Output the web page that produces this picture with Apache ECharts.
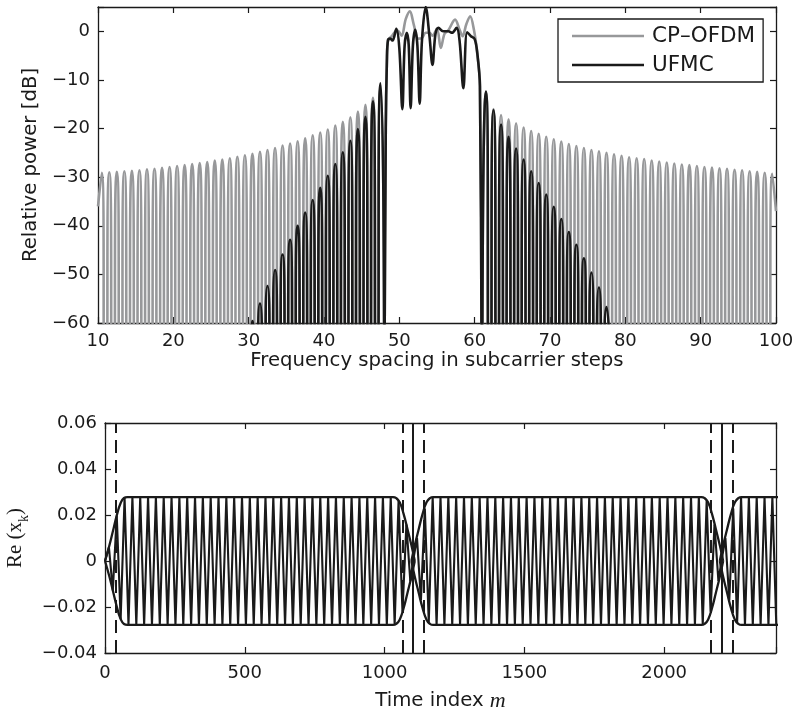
<!DOCTYPE html>
<html><head><meta charset="utf-8">
<script src="https://cdn.jsdelivr.net/npm/echarts@6/dist/echarts.min.js"></script>
<style>html,body{margin:0;padding:0;background:#fff}#c{width:792px;height:711px}</style>
</head><body><div id="c"></div>
<script>
// ---------- tick labels ----------
const topXTicks = [10,20,30,40,50,60,70,80,90,100];
const topYTicks = [-60,-50,-40,-30,-20,-10,0];
const botXTicks = [0,500,1000,1500,2000];
const botYTicks = [-0.04,-0.02,0,0.02,0.04,0.06];
const seriesNames = ['CP\u2013OFDM','UFMC'];

// ---------- top panel: spectra (dB) ----------
// side-lobe peak levels, one per subcarrier step (peaks at k+0.5)
const cpLeftPeakDb = [-29.1,-29.0,-28.9,-28.8,-28.7,-28.6,-28.4,-28.3,-28.1,-27.9,
  -27.7,-27.5,-27.3,-27.1,-26.9,-26.6,-26.4,-26.1,-25.8,-25.5,
  -25.2,-24.8,-24.4,-24.0,-23.5,-23.1,-22.6,-22.0,-21.4,-20.8,
  -20.2,-19.4,-18.6,-17.7,-16.5,-15.1,-13.7,-11.5];            // 10.5 .. 47.5
const cpRightPeakDb = [-12.5,-16.0,-17.2,-18.1,-18.9,-19.8,-20.5,-21.1,-21.7,-22.2,
  -22.7,-23.2,-23.6,-24.0,-24.4,-24.7,-25.0,-25.3,-25.6,-25.9,
  -26.1,-26.3,-26.6,-26.8,-27.0,-27.2,-27.4,-27.5,-27.7,-27.9,
  -28.0,-28.2,-28.3,-28.5,-28.6,-28.8,-28.9,-29.1,-29.3];     // 61.5 .. 99.5
const cpEdgeDb = [-36, -37];                                   // at f = 10 and f = 100
const cpInband = [[48.0,-80],[48.2,-20],[48.35,-6],[48.5,-1.8],[49.0,-1.0],[49.5,0],[49.8,0.1],
  [50.3,-0.9],[50.85,2.5],[51.4,4.1],[51.9,1.5],[52.5,-1.5],[53.0,-1.4],[53.5,-0.3],[54.0,-0.3],
  [54.4,-0.9],[55.0,0.5],[55.5,-3.4],[56.0,-0.5],[56.5,0.2],[57.4,2.4],[58.0,0.3],[58.4,-1.0],
  [58.9,1.5],[59.4,3.1],[59.9,0.3],[60.3,-4.0],[60.7,-11.0],[60.95,-80]];

const ufLeftPeakDb = [-59.6,-56.0,-52.4,-49.1,-45.9,-42.9,-40.0,-37.3,-34.7,-32.2,
  -29.7,-27.3,-24.9,-22.5,-20.1,-17.6,-14.4,-10.7];            // 30.5 .. 47.5
const ufRightPeakDb = [-12.4,-16.2,-19.2,-21.7,-24.1,-26.4,-28.8,-31.2,-33.6,-36.1,
  -38.6,-41.3,-43.9,-46.7,-49.6,-52.7,-56.7];                  // 61.5 .. 77.5
const ufInband = [[48.0,-80],[48.2,-20],[48.35,-6],[48.5,-1.8],[48.8,-1.5],[49.1,-1.9],[49.6,0.5],
  [50.0,-3.5],[50.4,-16.0],[50.7,-3.0],[51.0,-0.3],[51.25,-3.0],[51.5,-15.8],[51.8,-3.0],[52.1,0.3],
  [52.4,-3.0],[52.7,-14.9],[53.0,-2.0],[53.5,5.0],[54.0,-1.0],[54.4,-6.9],[54.8,-0.5],[55.2,0.7],
  [55.8,0.0],[56.5,0.0],[57.0,-0.3],[57.6,0.7],[58.0,-2.0],[58.5,-11.7],[59.0,-0.2],[59.5,-1.0],
  [60.0,-1.6],[60.35,-4.5],[60.7,-11.3],[60.95,-80]];
const nullFloorDb = -80;   // spectral nulls (below the visible range)

// ---------- bottom panel: time signal ----------
const solidLinesM = [1102, 2205];
const dashedLinesM = [39, 1064, 1141, 2167, 2244];
const waveM = [
  0,14,28,42,56,70,84,98,112,126,
  140,154,168,182,196,210,224,238,252,266,
  280,294,308,322,336,350,364,378,392,406,
  420,434,448,462,476,490,504,518,532,546,
  560,574,588,602,616,630,644,658,672,686,
  700,714,728,742,756,770,784,798,812,826,
  840,854,868,882,896,910,924,938,952,966,
  980,994,1008,1022,1036,1050,1064,1078,1092,
  1102,
  1116,1130,1144,1158,1172,1186,1200,1214,1228,
  1242,1256,1270,1284,1298,1312,1326,1340,1354,1368,
  1382,1396,1410,1424,1438,1452,1466,1480,1494,1508,
  1522,1536,1550,1564,1578,1592,1606,1620,1634,1648,
  1662,1676,1690,1704,1718,1732,1746,1760,1774,1788,
  1802,1816,1830,1844,1858,1872,1886,1900,1914,1928,
  1942,1956,1970,1984,1998,2012,2026,2040,2054,2068,
  2082,2096,2110,2124,2138,2152,2166,2180,2194,
  2205,
  2219,2233,2247,2261,2275,2289,2303,2317,2331,2345,2359,2373,2387,2401];
const waveV = [
  0,0.006,-0.0128,0.0198,-0.0252,0.0275,-0.0278,0.0278,-0.0278,0.0278,
  -0.0278,0.0278,-0.0278,0.0278,-0.0278,0.0278,-0.0278,0.0278,-0.0278,0.0278,
  -0.0278,0.0278,-0.0278,0.0278,-0.0278,0.0278,-0.0278,0.0278,-0.0278,0.0278,
  -0.0278,0.0278,-0.0278,0.0278,-0.0278,0.0278,-0.0278,0.0278,-0.0278,0.0278,
  -0.0278,0.0278,-0.0278,0.0278,-0.0278,0.0278,-0.0278,0.0278,-0.0278,0.0278,
  -0.0278,0.0278,-0.0278,0.0278,-0.0278,0.0278,-0.0278,0.0278,-0.0278,0.0278,
  -0.0278,0.0278,-0.0278,0.0278,-0.0278,0.0278,-0.0278,0.0278,-0.0278,0.0278,
  -0.0278,0.0278,-0.0278,0.0278,-0.0276,0.0262,-0.022,0.0158,-0.0087,
  0,
  0.010,-0.017,0.0228,-0.0266,0.0277,-0.0278,0.0278,-0.0278,0.0278,
  -0.0278,0.0278,-0.0278,0.0278,-0.0278,0.0278,-0.0278,0.0278,-0.0278,0.0278,
  -0.0278,0.0278,-0.0278,0.0278,-0.0278,0.0278,-0.0278,0.0278,-0.0278,0.0278,
  -0.0278,0.0278,-0.0278,0.0278,-0.0278,0.0278,-0.0278,0.0278,-0.0278,0.0278,
  -0.0278,0.0278,-0.0278,0.0278,-0.0278,0.0278,-0.0278,0.0278,-0.0278,0.0278,
  -0.0278,0.0278,-0.0278,0.0278,-0.0278,0.0278,-0.0278,0.0278,-0.0278,0.0278,
  -0.0278,0.0278,-0.0278,0.0278,-0.0278,0.0278,-0.0278,0.0278,-0.0278,0.0278,
  -0.0278,0.0278,-0.0278,0.0278,-0.0276,0.0262,-0.022,0.0158,-0.0087,
  0,
  0.010,-0.017,0.0228,-0.0266,0.0277,-0.0278,0.0278,-0.0278,0.0278,-0.0278,0.0278,-0.0278,0.0278,-0.0278];
// upper envelopes of the three blocks (lower = mirror)
const envBlock1 = [[0,0],[14,0.006],[28,0.0128],[42,0.0198],[56,0.0252],[68,0.0274],[80,0.0278],
  [1030,0.0278],[1042,0.0273],[1054,0.0255],[1068,0.0205],[1082,0.0138],[1096,0.0068],[1108,0]];
const envBlock2 = [[1096,0],[1108,0.0068],[1122,0.0138],[1136,0.0205],[1150,0.0255],[1162,0.0273],[1174,0.0278],
  [2133,0.0278],[2145,0.0273],[2157,0.0255],[2171,0.0205],[2185,0.0138],[2199,0.0068],[2211,0]];
const envBlock3 = [[2199,0],[2211,0.0068],[2225,0.0138],[2239,0.0205],[2253,0.0255],[2265,0.0273],[2277,0.0278],[2410,0.0278]];

// ---------- build ----------
function lobes(firstPeak, peaks){
  const out = [];
  peaks.forEach((db,i)=>{ const f = firstPeak + i; if(i>0) out.push([f-0.5, nullFloorDb]); out.push([f, db]); });
  return out;
}
const cpLeft  = [[topXTicks[0], cpEdgeDb[0]], ...lobes(10.5, cpLeftPeakDb), [48, nullFloorDb]];
const cpRight = [[61, nullFloorDb], ...lobes(61.5, cpRightPeakDb), [topXTicks[topXTicks.length-1], cpEdgeDb[1]]];
const ufLeft  = [[30, nullFloorDb], ...lobes(30.5, ufLeftPeakDb), [48, nullFloorDb]];
const ufRight = [[61, nullFloorDb], ...lobes(61.5, ufRightPeakDb), [78, nullFloorDb]];
const waveData = waveM.map((m,i)=>[m, waveV[i]]);

const SANS = 'DejaVu Sans', SERIF = 'Liberation Serif';
const INK = '#1a1a1a', GREY = '#97989a';
const minus = s => String(s).replace('-', '\u2212');
const near = (v, arr) => arr.some(t => Math.abs(t - v) < 1e-9);

const tick = {show:true, inside:true, length:6, lineStyle:{color:INK, width:1.2}};
const line = {show:true, onZero:false, lineStyle:{color:INK, width:1.3}};
const lbl = {color:INK, fontFamily:SANS, fontSize:18};

function spec(name, data, color, smooth, z){
  return {name, type:'line', xAxisIndex:0, yAxisIndex:0, symbol:'none', smooth,
    lineStyle:{color, width:2.6}, itemStyle:{color}, data, z};
}

const envSeries = [];
[envBlock1, envBlock2, envBlock3].forEach(env => {
  [1,-1].forEach(s => envSeries.push({
    type:'line', xAxisIndex:2, yAxisIndex:2, symbol:'none', smooth:0.5, silent:true,
    lineStyle:{color:INK, width:2.3}, data: env.map(p => [p[0], s*p[1]])
  }));
});

const chart = echarts.init(document.getElementById('c'), null, {renderer:'canvas'});
chart.setOption({
  animation:false,
  backgroundColor:'#fff',
  grid:[
    {left:98, top:7, width:678, height:316, containLabel:false, outerBoundsMode:'none'},
    {left:105, top:423, width:671, height:230, containLabel:false, outerBoundsMode:'none'}
  ],
  legend:{
    data: seriesNames, left:558, top:19, orient:'vertical', icon:'rect',
    backgroundColor:'#fff', borderColor:INK, borderWidth:1.3, borderRadius:0,
    padding:[6,8,6,14], itemWidth:72, itemHeight:2.6, itemGap:7,
    textStyle:{fontFamily:SANS, fontSize:21.5, color:INK, padding:[0,0,0,3], lineHeight:21}
  },
  xAxis:[
    {gridIndex:0, type:'value', min:10, max:100, interval:10, position:'bottom',
     axisLine:line, axisTick:tick, splitLine:{show:false},
     axisLabel:Object.assign({margin:9, formatter:v => near(v, topXTicks) ? String(v) : ''}, lbl),
     name:'Frequency spacing in subcarrier steps', nameLocation:'middle', nameGap:25,
     nameTextStyle:{fontFamily:SANS, fontSize:19.7, color:INK}},
    {gridIndex:0, type:'value', min:10, max:100, interval:10, position:'top',
     axisLine:line, axisTick:tick, splitLine:{show:false}, axisLabel:{show:false}},
    {gridIndex:1, type:'value', min:0, max:2400, interval:500, position:'bottom',
     axisLine:line, axisTick:tick, splitLine:{show:false},
     axisLabel:Object.assign({margin:11, formatter:v => near(v, botXTicks) ? String(v) : ''}, lbl),
     name:'{a|Time index }{b|m}', nameLocation:'middle', nameGap:37,
     nameTextStyle:{rich:{a:{fontFamily:SANS, fontSize:19.7, color:INK}, b:{fontFamily:SERIF, fontStyle:'italic', fontSize:22, color:INK}}}},
    {gridIndex:1, type:'value', min:0, max:2400, interval:500, position:'top',
     axisLine:line, axisTick:tick, splitLine:{show:false}, axisLabel:{show:false}}
  ],
  yAxis:[
    {gridIndex:0, type:'value', min:-60, max:5, interval:10, position:'left',
     axisLine:line, axisTick:tick, splitLine:{show:false},
     axisLabel:Object.assign({margin:8, formatter:v => near(v, topYTicks) ? minus(v) : ''}, lbl),
     name:'Relative power [dB]', nameLocation:'middle', nameGap:55,
     nameTextStyle:{fontFamily:SANS, fontSize:19.7, color:INK}},
    {gridIndex:0, type:'value', min:-60, max:5, interval:10, position:'right',
     axisLine:line, axisTick:tick, splitLine:{show:false}, axisLabel:{show:false}},
    {gridIndex:1, type:'value', min:-0.04, max:0.06, interval:0.02, position:'left',
     axisLine:line, axisTick:tick, splitLine:{show:false},
     axisLabel:Object.assign({margin:8, formatter:v => Math.abs(v) < 1e-9 ? '0' : (near(v, botYTicks) ? minus(v.toFixed(2)) : '')}, lbl),
     name:'{a|Re (x}{b|k}{a|)}', nameLocation:'middle', nameGap:72,
     nameTextStyle:{rich:{a:{fontFamily:SERIF, fontSize:21, color:INK, lineHeight:30}, b:{fontFamily:SERIF, fontSize:14, color:INK, verticalAlign:'bottom', lineHeight:14}}}},
    {gridIndex:1, type:'value', min:-0.04, max:0.06, interval:0.02, position:'right',
     axisLine:line, axisTick:tick, splitLine:{show:false}, axisLabel:{show:false}}
  ],
  series:[
    spec(seriesNames[0], cpLeft, GREY, 1, 2),
    spec(seriesNames[0], cpInband, GREY, 0.35, 2),
    spec(seriesNames[0], cpRight, GREY, 1, 2),
    spec(seriesNames[1], ufLeft, INK, 1, 3),
    spec(seriesNames[1], ufInband, INK, 0.35, 3),
    spec(seriesNames[1], ufRight, INK, 1, 3),
    {type:'line', xAxisIndex:2, yAxisIndex:2, symbol:'none', silent:true,
     lineStyle:{color:INK, width:2.1}, data:waveData,
     markLine:{symbol:['none','none'], silent:true, label:{show:false}, animation:false,
       data:[
         ...solidLinesM.map(m => ({xAxis:m, lineStyle:{color:INK, width:2, type:'solid'}})),
         ...dashedLinesM.map(m => ({xAxis:m, lineStyle:{color:INK, width:2, type:[13,7]}}))
       ]}},
    ...envSeries
  ]
});
</script></body></html>
